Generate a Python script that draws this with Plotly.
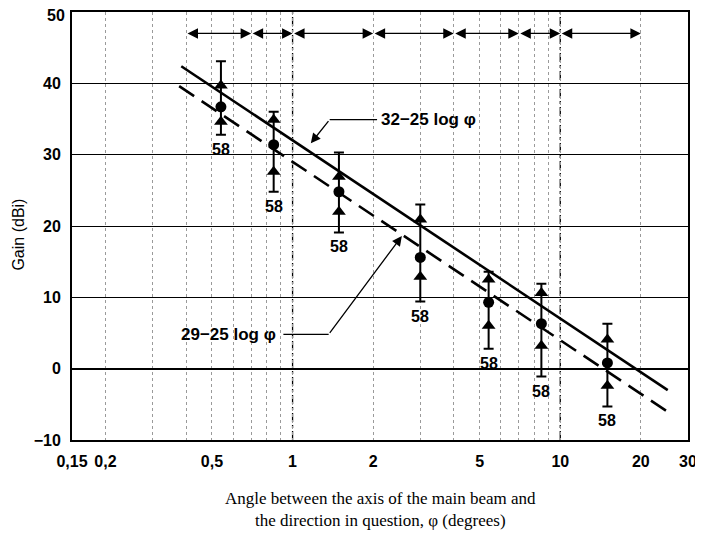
import math
import plotly.graph_objects as go

# ---------------- data ----------------
phi = [0.54, 0.85, 1.49, 3.0, 5.4, 8.5, 15.0]
gain_mean = [36.7, 31.4, 24.8, 15.6, 9.3, 6.3, 0.8]
gain_tri_upper = [39.7, 34.9, 26.9, 20.9, 12.5, 10.6, 4.1]
gain_tri_lower = [34.6, 27.6, 22.0, 12.9, 6.0, 3.2, -2.4]
gain_bar_top = [43.1, 36.0, 30.3, 23.0, 13.6, 11.9, 6.3]
gain_bar_bottom = [32.8, 24.8, 19.1, 9.4, 2.8, -1.1, -5.3]
sample_labels = ["58", "58", "58", "58", "58", "58", "58"]

# reference lines (end points)
solid_phi = [0.384, 25.2]
solid_gain = [42.4, -3.0]
dashed_phi = [0.377, 25.8]
dashed_gain = [39.6, -6.3]

# angular ranges shown by the arrows at the top
range_bounds = [0.4, 0.7, 1, 2, 4, 7, 10, 20]
range_level = 47

x_tickvals = [0.15, 0.2, 0.3, 0.4, 0.5, 0.6, 0.7, 0.8, 0.9, 1, 2, 3, 4, 5, 6, 7, 8, 9, 10, 20, 30]
x_ticktext = ["0,15", "0,2", "", "", "0,5", "", "", "", "", "1", "2", "", "", "5", "", "", "", "", "10", "20", "30"]
y_tickvals = [-10, 0, 10, 20, 30, 40, 50]
y_ticktext = ["−10", "0", "10", "20", "30", "40", ""]   # top label "50" drawn separately
y_top_label = "50"

# ---------------- figure ----------------
L = math.log10
fig = go.Figure()

fig.add_trace(go.Scatter(x=solid_phi, y=solid_gain, mode="lines",
                         line=dict(color="black", width=2.6), showlegend=False))
fig.add_trace(go.Scatter(x=dashed_phi, y=dashed_gain, mode="lines",
                         line=dict(color="black", width=2.6, dash="18px,9px"), showlegend=False))

err_plus = [t - m for t, m in zip(gain_bar_top, gain_mean)]
err_minus = [m - b for m, b in zip(gain_mean, gain_bar_bottom)]
fig.add_trace(go.Scatter(
    x=phi, y=gain_mean, mode="markers",
    marker=dict(symbol="circle", size=11, color="black"),
    error_y=dict(type="data", symmetric=False, array=err_plus, arrayminus=err_minus,
                 color="black", thickness=2, width=5),
    showlegend=False))
fig.add_trace(go.Scatter(x=phi, y=gain_tri_upper, mode="markers",
                         marker=dict(symbol="triangle-up", size=12, color="black"),
                         showlegend=False))
fig.add_trace(go.Scatter(x=phi, y=gain_tri_lower, mode="markers",
                         marker=dict(symbol="triangle-up", size=12, color="black"),
                         showlegend=False))

annotations = []
# sample-size labels
for xv, yv, t in zip(phi, gain_bar_bottom, sample_labels):
    annotations.append(dict(x=L(xv), y=yv, xref="x", yref="y", text=t, showarrow=False,
                            yanchor="top", yshift=-4,
                            font=dict(family="Liberation Sans", size=16, color="black", weight="bold")))

# range arrows at top
for a, b in zip(range_bounds[:-1], range_bounds[1:]):
    annotations.append(dict(x=L(b), y=range_level, ax=L(a), ay=range_level,
                            xref="x", yref="y", axref="x", ayref="y", text="",
                            showarrow=True, arrowside="end+start",
                            arrowhead=2, startarrowhead=2, arrowsize=1.5, startarrowsize=1.5,
                            arrowwidth=1.4, arrowcolor="black", standoff=0, startstandoff=0))

# callout for solid line
c1_text_phi, c1_level = 2.1, 34.9
c1_elbow_phi = 1.376
c1_tip_phi, c1_tip_gain = 1.17, 31.6
annotations.append(dict(x=L(c1_text_phi), y=c1_level, xref="x", yref="y",
                        text="32−25 log φ", showarrow=False, xanchor="left",
                        font=dict(family="Liberation Sans", size=17, color="black", weight="bold")))
annotations.append(dict(x=L(c1_tip_phi), y=c1_tip_gain, ax=L(c1_elbow_phi), ay=c1_level,
                        xref="x", yref="y", axref="x", ayref="y", text="", showarrow=True,
                        arrowhead=2, arrowsize=1.5, arrowwidth=1.3, arrowcolor="black", standoff=0))
# callout for dashed line
c2_text_phi, c2_level = 0.88, 4.8
c2_elbow_phi = 1.364
c2_tip_phi, c2_tip_gain = 2.56, 18.6
annotations.append(dict(x=L(c2_text_phi), y=c2_level, xref="x", yref="y",
                        text="29−25 log φ", showarrow=False, xanchor="right",
                        font=dict(family="Liberation Sans", size=17, color="black", weight="bold")))
annotations.append(dict(x=L(c2_tip_phi), y=c2_tip_gain, ax=L(c2_elbow_phi), ay=c2_level,
                        xref="x", yref="y", axref="x", ayref="y", text="", showarrow=True,
                        arrowhead=2, arrowsize=1.5, arrowwidth=1.3, arrowcolor="black", standoff=0))

# top y tick label, nudged down so it stays inside the page
annotations.append(dict(x=0, y=50, xref="paper", yref="y", text=y_top_label, showarrow=False,
                        xanchor="right", yanchor="middle", xshift=-5, yshift=-3,
                        font=dict(family="Liberation Sans", size=16, color="black", weight="bold")))

# x axis title (two lines, serif)
annotations.append(dict(x=0.5, y=-0.163, xref="paper", yref="paper", showarrow=False,
                        text="Angle between the axis of the main beam and<br>the direction in question, φ (degrees)",
                        yanchor="middle", align="center",
                        font=dict(family="Liberation Serif", size=17, color="black")))
# y axis title
annotations.append(dict(x=-0.086, y=0.48, xref="paper", yref="paper", showarrow=False,
                        text="Gain (dBi)", textangle=-90, xanchor="center", yanchor="middle",
                        font=dict(family="Liberation Sans", size=16, color="black")))

shapes = [
    dict(type="line", x0=c1_text_phi * 0.985, x1=c1_elbow_phi, y0=c1_level, y1=c1_level,
         xref="x", yref="y", line=dict(color="black", width=1.3)),
    dict(type="line", x0=c2_text_phi * 1.05, x1=c2_elbow_phi, y0=c2_level, y1=c2_level,
         xref="x", yref="y", line=dict(color="black", width=1.3)),
    dict(type="line", x0=1, x1=1, y0=-10, y1=50, xref="x", yref="y",
         line=dict(color="black", width=1.3, dash="dashdot"), layer="below"),
    dict(type="line", x0=10, x1=10, y0=-10, y1=50, xref="x", yref="y",
         line=dict(color="black", width=1.3, dash="dashdot"), layer="below"),
]

# page body adds an 8px offset, so the figure is 8px smaller on each side
fig.update_layout(
    width=695, height=533,
    margin=dict(l=64, r=15, t=4, b=101, autoexpand=False),
    paper_bgcolor="white", plot_bgcolor="white",
    annotations=annotations, shapes=shapes,
    showlegend=False,
)
fig.update_xaxes(
    type="log", range=[L(0.15), L(30)], automargin=False,
    tickvals=x_tickvals, ticktext=x_ticktext, ticks="",
    tickfont=dict(family="Liberation Sans", size=16, color="black", weight="bold"),
    showgrid=True, gridcolor="#9a9a9a", gridwidth=1, griddash="dot",
    showline=True, linecolor="black", linewidth=2, mirror=True,
    ticklabelstandoff=6, ticklabeloverflow="allow",
)
fig.update_yaxes(
    range=[-10, 50], tickvals=y_tickvals, ticktext=y_ticktext, ticks="", automargin=False,
    tickfont=dict(family="Liberation Sans", size=16, color="black", weight="bold"),
    showgrid=True, gridcolor="black", gridwidth=1.4,
    zeroline=True, zerolinecolor="black", zerolinewidth=1.6,
    showline=True, linecolor="black", linewidth=2, mirror=True,
    ticklabelstandoff=6, ticklabeloverflow="allow",
)

fig.write_html("out.html")
